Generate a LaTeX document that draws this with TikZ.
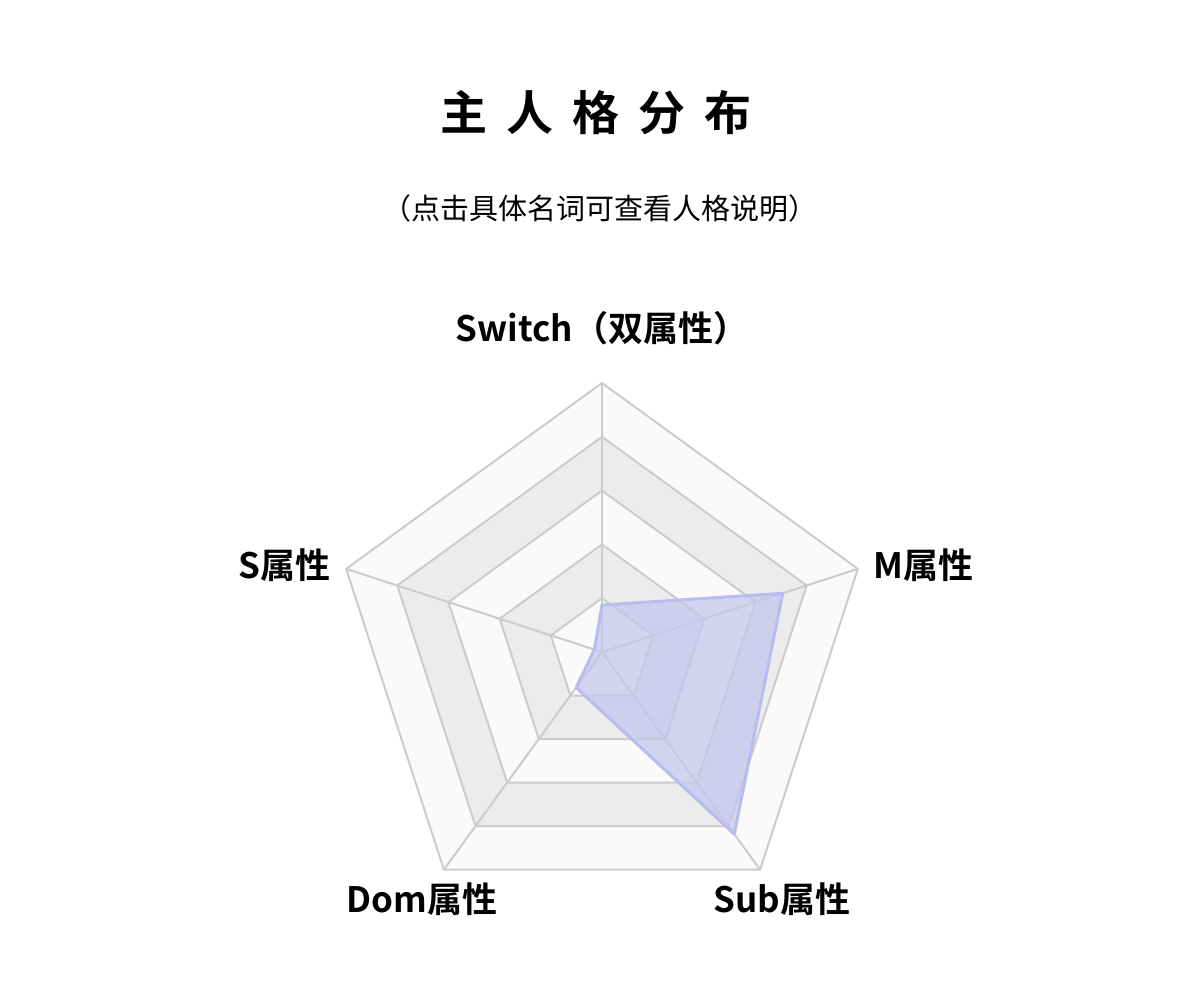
\documentclass[tikz,border=0pt]{standalone}
\usepackage{fontspec}
\setmainfont{Noto Sans CJK SC}[BoldFont={Noto Sans CJK SC Bold}]
\definecolor{gridc}{HTML}{CCCCCC}
\definecolor{bandg}{HTML}{ECECEC}
\definecolor{bandw}{HTML}{FAFAFA}
\definecolor{dataf}{HTML}{C4C6EC}
\definecolor{datal}{HTML}{B8BCEE}
\begin{document}
\begin{tikzpicture}[x=1pt,y=-1pt,
  lab/.style={font=\fontsize{35}{42}\selectfont\bfseries},
  gl/.style={draw=gridc,line width=2pt}]
\useasboundingbox (0,0) rectangle (1200,1008);
\node[font=\fontsize{47}{56}\selectfont\bfseries] (title) at (596,113) {主\hspace{0.4em}人\hspace{0.4em}格\hspace{0.4em}分\hspace{0.4em}布};
\node[font=\fontsize{29}{35}\selectfont] (sub) at (600,208) {（点击具体名词可查看人格说明）};
\begin{scope}[shift={(602,652)},yscale=-1]
\foreach \k/\c in {5/bandw,4/bandg,3/bandw,2/bandg,1/bandw}{
  \fill[\c] (90:\k*53.8) -- (162:\k*53.8) -- (234:\k*53.8) -- (306:\k*53.8) -- (18:\k*53.8) -- cycle;
}
\foreach \k in {1,...,5}{
  \draw[gl] (90:\k*53.8) -- (162:\k*53.8) -- (234:\k*53.8) -- (306:\k*53.8) -- (18:\k*53.8) -- cycle;
}
\foreach \a in {90,162,234,306,18}{ \draw[gl] (0,0) -- (\a:269); }
\coordinate (pT) at (90:47);
\coordinate (pM) at (18:190);
\coordinate (pSub) at (306:225);
\coordinate (pD) at (234:44);
\coordinate (pS) at (162:8);
\filldraw[fill=dataf,fill opacity=0.75,draw=datal,line width=3pt,line join=round] (pT) -- (pM) -- (pSub) -- (pD) -- (pS) -- cycle;
\node[lab] (lT) at (90:324) {Switch（双属性）};
\node[lab,anchor=west] (lM) at (18:282) {M属性};
\node[lab,anchor=east] (lS) at (162:282) {S属性};
\node[lab] (lSub) at (306:306) {Sub属性};
\node[lab] (lD) at (234:306) {Dom属性};
\end{scope}
\end{tikzpicture}
\end{document}
